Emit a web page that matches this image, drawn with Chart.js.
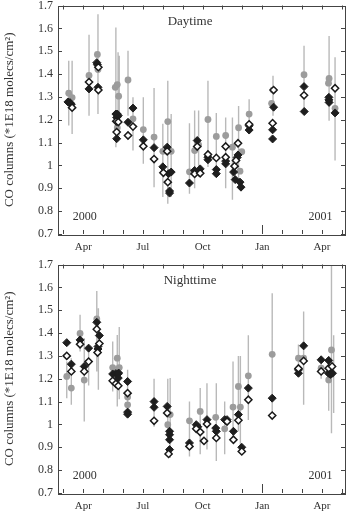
<!DOCTYPE html>
<html><head><meta charset="utf-8">
<script src="https://cdn.jsdelivr.net/npm/chart.js@4/dist/chart.umd.min.js"></script>
<style>
html,body{margin:0;padding:0;background:#fff;}
.box{position:absolute;left:0;}
canvas{display:block;}
</style></head>
<body>
<div class="box" style="top:0"><canvas id="c1" width="352" height="259"></canvas></div>
<div class="box" style="top:259px"><canvas id="c2" width="352" height="260"></canvas></div>
<script>
// x values are months since 1 Jan 2000 (0 = Jan 2000, 12 = Jan 2001)
const monthTicks = [2,3,4,5,6,7,8,9,10,11,12,13,14,15,16];
const monthLabels = {3:'Apr',6:'Jul',9:'Oct',12:'Jan',15:'Apr'};
const yTicks = [0.7,0.8,0.9,1.0,1.1,1.2,1.3,1.4,1.5,1.6,1.7];
const yTitle = 'CO columns (*1E18 molecs/cm²)';

// ---- Daytime ----
const dayGrayX = [2.27,2.44,3.29,3.71,3.74,4.61,4.71,4.78,4.71,5.25,5.50,6.02,6.56,7.00,7.25,7.22,7.42,8.34,8.60,8.80,9.27,9.69,10.16,10.50,10.81,10.88,10.97,11.34,12.47,12.54,14.10,15.33,15.36,15.66];
const dayGrayY = [1.316,1.297,1.394,1.486,1.42,1.342,1.354,1.303,1.165,1.374,1.204,1.157,1.124,1.062,1.192,1.062,1.062,0.972,1.065,1.09,1.201,1.127,1.131,1.08,1.165,0.975,1.06,1.225,1.272,1.330,1.397,1.36,1.381,1.25];
const dayBlackX = [2.23,2.33,2.40,3.29,3.68,3.71,3.74,4.64,4.71,4.76,4.68,4.68,5.25,5.50,6.02,6.56,7.00,7.22,7.29,7.34,7.34,7.42,8.34,8.60,8.73,8.88,9.27,9.27,9.69,9.69,10.16,10.16,10.56,10.64,10.78,10.74,10.88,10.93,11.34,11.34,12.52,12.52,12.57,14.10,14.11,15.35,15.35,15.36,15.66];
const dayBlackY = [1.278,1.275,1.268,1.335,1.45,1.441,1.342,1.225,1.225,1.218,1.21,1.117,1.189,1.251,1.112,1.078,0.994,1.08,0.964,0.888,0.879,0.971,0.923,0.978,1.109,0.985,1.036,1.025,0.982,0.964,1.007,1.019,0.971,0.938,1.046,1.035,0.927,0.905,1.174,1.155,1.156,1.116,1.255,1.345,1.236,1.298,1.287,1.276,1.23];
const dayOpenX = [2.44,3.29,3.76,3.76,4.66,4.76,4.68,5.25,5.50,6.02,6.56,7.03,7.22,7.25,8.60,8.73,8.88,9.27,9.69,10.16,10.16,10.61,10.68,10.78,11.34,12.52,12.57,14.10,15.66];
const dayOpenY = [1.253,1.365,1.43,1.33,1.193,1.19,1.146,1.131,1.17,1.084,1.028,0.968,1.062,0.927,0.963,1.083,0.966,1.048,1.033,1.083,1.036,0.997,1.022,1.097,1.18,1.185,1.33,1.307,1.338];
const dayErrX  = [2.27,2.44,3.29,3.74,4.64,4.75,4.81,5.25,5.50,6.02,6.56,7.00,7.25,7.42,8.34,8.60,8.80,9.27,9.69,10.16,10.50,10.81,11.34,12.54,14.10,15.36,15.66];
const dayErrLo = [1.175,1.138,1.218,1.225,1.08,1.115,1.13,1.218,1.065,1.007,0.905,0.862,0.832,0.862,0.876,0.9,0.95,0.993,0.95,0.9,0.85,0.93,1.14,1.218,1.24,1.196,1.022];
const dayErrHi = [1.458,1.458,1.572,1.662,1.604,1.495,1.48,1.502,1.298,1.298,1.339,1.182,1.371,1.225,1.185,1.24,1.24,1.371,1.23,1.21,1.21,1.26,1.29,1.393,1.524,1.567,1.473];

// ---- Nighttime ----
const nightGrayX = [2.17,2.40,2.84,3.05,3.68,4.48,4.71,4.81,5.23,5.23,7.25,7.37,8.34,8.88,9.66,10.11,10.53,10.80,10.90,11.30,12.50,13.82,14.08,14.96,15.34,15.48];
const nightGrayY = [1.21,1.159,1.398,1.194,1.462,1.249,1.29,1.249,1.086,1.12,0.999,1.043,1.016,1.057,1.031,0.981,1.076,1.166,1.076,1.213,1.307,1.29,1.29,1.246,1.195,1.326];
const nightBlackX = [2.17,2.40,2.84,3.05,3.27,3.68,3.81,3.74,3.74,4.48,4.64,4.73,4.78,4.76,5.23,5.23,5.23,6.56,6.56,7.22,7.34,7.34,7.34,7.34,8.34,8.68,8.76,9.22,9.66,9.69,10.11,10.23,10.20,10.55,10.80,10.97,11.30,12.50,13.82,13.82,14.08,14.96,15.34,15.33,15.43,15.53];
const nightBlackY = [1.358,1.264,1.37,1.254,1.334,1.447,1.389,1.341,1.33,1.221,1.223,1.22,1.225,1.203,1.188,1.054,1.045,1.10,1.075,1.079,0.97,0.955,0.933,0.89,0.919,0.999,0.99,1.021,0.984,0.97,1.021,1.021,1.015,0.97,1.043,0.9,1.159,1.115,1.239,1.224,1.344,1.283,1.28,1.224,1.219,1.224];
const nightOpenX = [2.17,2.40,2.84,3.05,3.27,3.68,3.81,3.72,4.48,4.64,4.76,5.23,6.56,7.22,7.29,8.34,8.68,8.88,9.07,9.22,9.69,10.23,10.55,10.80,10.97,11.30,12.50,13.82,14.08,14.96,15.34,15.51];
const nightOpenY = [1.30,1.232,1.351,1.232,1.275,1.417,1.354,1.315,1.191,1.178,1.169,1.137,1.016,1.05,0.871,0.904,0.981,0.967,0.928,1.002,0.941,1.013,0.933,1.018,0.882,1.108,1.039,1.245,1.278,1.232,1.246,1.254];
const nightErrX  = [2.17,2.40,2.84,3.05,3.27,3.68,3.76,4.48,4.71,4.81,5.23,6.56,7.25,7.37,8.34,8.88,9.22,9.69,10.11,10.53,10.80,10.90,11.30,12.50,13.82,14.08,14.96,15.34,15.48,15.59];
const nightErrLo = [1.115,1.086,1.319,1.013,1.17,1.232,1.152,1.144,1.079,1.11,1.042,0.99,0.92,0.853,0.86,0.87,0.89,0.84,0.87,0.95,0.97,0.91,1.02,1.028,1.23,1.086,1.2,1.06,0.962,1.05];
const nightErrHi = [1.275,1.29,1.48,1.377,1.334,1.584,1.508,1.363,1.392,1.427,1.239,1.2,1.2,1.203,1.1,1.16,1.18,1.18,1.1,1.275,1.3,1.3,1.39,1.574,1.35,1.494,1.3,1.3,1.695,1.39];

const SERIF = '"Liberation Serif","DejaVu Serif",serif';
const INK = '#333';

function pts(xs, ys){ return xs.map((x,i)=>({x:x, y:ys[i]})); }
function errPts(xs, lo, hi){
  const out = [];
  xs.forEach((x,i)=>{ out.push({x:x,y:lo[i]}); out.push({x:x,y:hi[i]}); out.push({x:x,y:null}); });
  return out;
}

const framePlugin = {
  id:'frame',
  afterDraw(chart){
    const ctx = chart.ctx, a = chart.chartArea;
    const xs = chart.scales.x, ys = chart.scales.y;
    ctx.save();
    ctx.strokeStyle = '#444'; ctx.lineWidth = 1;
    ctx.strokeRect(Math.round(a.left)+0.5, Math.round(a.top)+0.5, Math.round(a.right-a.left), Math.round(a.bottom-a.top));
    ctx.beginPath();
    monthTicks.forEach(m=>{
      const px = Math.round(xs.getPixelForValue(m))+0.5;
      const len = m===12 ? 9 : 4;
      ctx.moveTo(px, a.bottom); ctx.lineTo(px, a.bottom-len);
      ctx.moveTo(px, a.top); ctx.lineTo(px, a.top+4);
    });
    yTicks.forEach(v=>{
      const py = Math.round(ys.getPixelForValue(v))+0.5;
      ctx.moveTo(a.left, py); ctx.lineTo(a.left+4, py);
      ctx.moveTo(a.right, py); ctx.lineTo(a.right-4, py);
    });
    ctx.stroke();
    const t = chart.options.plugins.frame;
    ctx.fillStyle = INK;
    ctx.textAlign = 'center'; ctx.textBaseline = 'middle';
    ctx.font = '13px ' + SERIF;
    ctx.fillText(t.label, xs.getPixelForValue(8.37), ys.getPixelForValue(1.63));
    ctx.font = '12px ' + SERIF;
    ctx.fillText('2000', xs.getPixelForValue(3.07), ys.getPixelForValue(0.773));
    ctx.fillText('2001', xs.getPixelForValue(14.93), ys.getPixelForValue(0.773));
    ctx.restore();
  }
};

function makeChart(id, label, gx, gy, bx, by, ox, oy, ex, elo, ehi, padTop, xH){
  return new Chart(document.getElementById(id), {
    type:'scatter',
    data:{ datasets:[
      { data: pts(ox,oy), pointStyle:'rectRot', pointRadius:3.6, backgroundColor:'#fff', borderColor:'#1a1a1a', pointBorderWidth:1.5 },
      { data: pts(bx,by), pointStyle:'rectRot', pointRadius:4, backgroundColor:'#1e1e1e', borderColor:'#1e1e1e', pointBorderWidth:1 },
      { data: pts(gx,gy), pointStyle:'circle', pointRadius:3.4, backgroundColor:'#9c9c9c', borderColor:'#9c9c9c', pointBorderWidth:0 },
      { data: errPts(ex,elo,ehi), showLine:true, spanGaps:false, pointRadius:0, borderColor:'#b9b9b9', borderWidth:1.4 }
    ]},
    options:{
      responsive:false, animation:false, devicePixelRatio:1,
      layout:{ padding:{ top:padTop, right:7, left:0, bottom:0 } },
      plugins:{ legend:{display:false}, tooltip:{enabled:false}, frame:{label:label} },
      scales:{
        x:{ type:'linear', min:1.73, max:16.16,
            afterBuildTicks(s){ s.ticks = monthTicks.map(v=>({value:v})); },
            afterFit(s){ s.height = xH; s.paddingLeft = 0; s.paddingRight = 0; },
            grid:{ display:false, drawTicks:false }, border:{ display:false },
            ticks:{ autoSkip:false, maxRotation:0, padding:7, color:INK, font:{ family:SERIF, size:11 },
                    callback:(v)=> monthLabels[v] || '' } },
        y:{ type:'linear', min:0.7, max:1.7,
            afterBuildTicks(s){ s.ticks = yTicks.map(v=>({value:v})); },
            afterFit(s){ s.width = 58; s.paddingTop = 0; s.paddingBottom = 0; },
            grid:{ display:false, drawTicks:false }, border:{ display:false },
            title:{ display:true, text:yTitle, color:INK, font:{ family:SERIF, size:13 }, padding:{top:2,bottom:0} },
            ticks:{ padding:5, color:INK, font:{ family:SERIF, size:12 },
                    callback:(v)=> Math.abs(v-1)<1e-9 ? '1' : v.toFixed(1) } }
      }
    },
    plugins:[framePlugin]
  });
}

makeChart('c1','Daytime', dayGrayX, dayGrayY, dayBlackX, dayBlackY, dayOpenX, dayOpenY, dayErrX, dayErrLo, dayErrHi, 5, 25);
makeChart('c2','Nighttime', nightGrayX, nightGrayY, nightBlackX, nightBlackY, nightOpenX, nightOpenY, nightErrX, nightErrLo, nightErrHi, 5.5, 26);
</script>
</body></html>
